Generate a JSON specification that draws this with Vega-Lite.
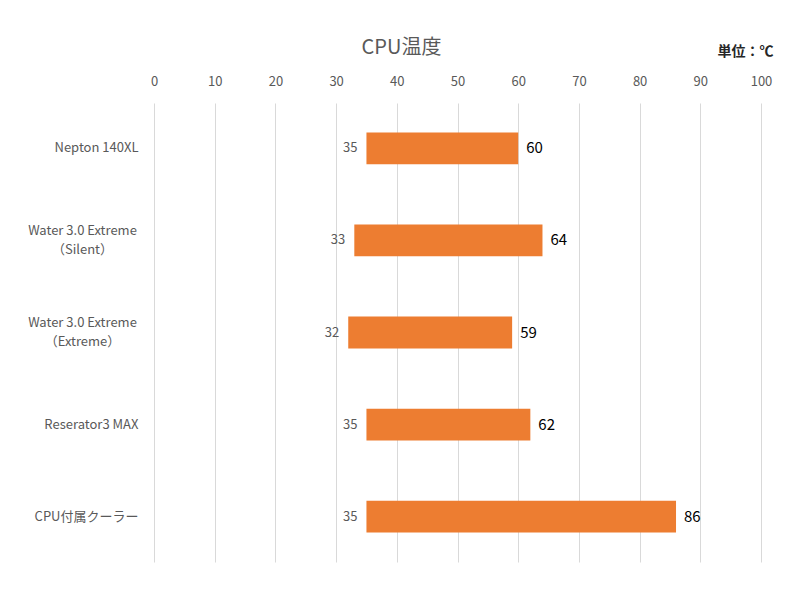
{
  "$schema": "https://vega.github.io/schema/vega-lite/v6.json",
  "autosize": "none",
  "width": 607,
  "height": 459,
  "padding": {"left": 154, "top": 103, "right": 39, "bottom": 38},
  "background": "white",
  "config": {
    "view": {"stroke": null},
    "font": "Noto Sans CJK JP"
  },
  "title": {
    "text": "CPU温度",
    "anchor": "middle",
    "frame": "group",
    "dx": -56,
    "dy": 34,
    "offset": 20,
    "fontSize": 20,
    "fontWeight": "normal",
    "color": "#595959",
    "font": "Noto Sans CJK JP"
  },
  "data": {
    "values": [
      {"name": "Nepton 140XL", "low": 35, "high": 60},
      {"name": "Water 3.0 Extreme\n（Silent）", "low": 33, "high": 64},
      {"name": "Water 3.0 Extreme\n（Extreme）", "low": 32, "high": 59},
      {"name": "Reserator3 MAX", "low": 35, "high": 62},
      {"name": "CPU付属クーラー", "low": 35, "high": 86}
    ]
  },
  "encoding": {
    "y": {
      "field": "name",
      "type": "nominal",
      "sort": null,
      "scale": {"paddingInner": 0.655, "paddingOuter": 0.32},
      "axis": {
        "title": null,
        "domain": false,
        "ticks": false,
        "labelPadding": {"condition": {"test": "indexof(datum.value, '\\n') >= 0", "value": 72}, "value": 16},
        "labelAlign": {"condition": {"test": "indexof(datum.value, '\\n') >= 0", "value": "center"}, "value": "right"},
        "labelOffset": {"condition": {"test": "indexof(datum.value, '\\n') >= 0", "value": -9.5}, "value": 0},
        "labelFontSize": 13,
        "labelColor": "#595959",
        "labelLineHeight": 19,
        "labelExpr": "split(datum.label, '\\n')"
      }
    }
  },
  "layer": [
    {
      "mark": {"type": "bar", "color": "#ED7D31"},
      "encoding": {
        "x": {
          "field": "low",
          "type": "quantitative",
          "scale": {"domain": [0, 100], "nice": false},
          "axis": {
            "orient": "top",
            "values": [0, 10, 20, 30, 40, 50, 60, 70, 80, 90, 100],
            "grid": true,
            "gridColor": "#d9d9d9",
            "domain": false,
            "ticks": false,
            "labelFlush": false,
            "labelPadding": 15,
            "labelFontSize": 13,
            "labelColor": "#595959",
            "title": "単位：℃",
            "titleFontSize": 14,
            "titleFontWeight": "bold",
            "titleColor": "#262626",
            "titleAnchor": "end",
            "titleAlign": "right",
            "titleBaseline": "middle",
            "titleX": 619,
            "titleY": -52
          }
        },
        "x2": {"field": "high"}
      }
    },
    {
      "mark": {"type": "text", "align": "right", "baseline": "middle", "dx": -9, "fontSize": 13, "color": "#595959"},
      "encoding": {
        "x": {"field": "low", "type": "quantitative"},
        "text": {"field": "low", "type": "quantitative"}
      }
    },
    {
      "mark": {"type": "text", "align": "left", "baseline": "middle", "dx": 8, "fontSize": 15, "color": "#000000"},
      "encoding": {
        "x": {"field": "high", "type": "quantitative"},
        "text": {"field": "high", "type": "quantitative"}
      }
    }
  ]
}
